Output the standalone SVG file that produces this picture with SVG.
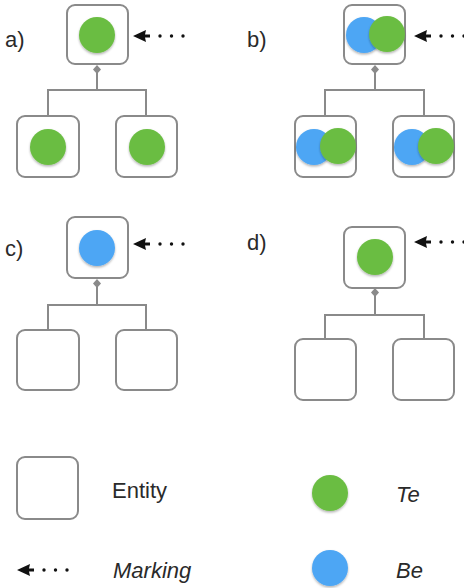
<svg xmlns="http://www.w3.org/2000/svg" width="464" height="588" viewBox="0 0 464 588">
<defs>
<style>
.box{fill:#fff;stroke:#8a8a8a;stroke-width:2}
.ln{fill:none;stroke:#8a8a8a;stroke-width:2}
.dia{fill:#8a8a8a}
.te{fill:#6bbd43}
.be{fill:#4da6f4}
.lbl{font-family:"Helvetica Neue","Liberation Sans",Arial,sans-serif;font-size:22px;fill:#2a2a2a}
.it{font-style:italic}
.dot{fill:#111}
</style>
<filter id="sh" x="-30%" y="-30%" width="160%" height="170%">
<feDropShadow dx="0" dy="1.5" stdDeviation="1.2" flood-color="#000" flood-opacity="0.3"/>
</filter>
<g id="mark">
<path d="M0,0 L13,-6 L12,-1.5 L17,-1.5 L17,1.5 L12,1.5 L13,6 Z" fill="#111"/>
<circle class="dot" cx="27" cy="0" r="1.7"/>
<circle class="dot" cx="38.5" cy="0" r="1.7"/>
<circle class="dot" cx="50" cy="0" r="1.7"/>
</g>
</defs>
<rect width="464" height="588" fill="#fff"/>

<g id="connectors">
<path class="ln" d="M97,68 V90 M48,116 V90 H146 V116"/>
<path class="dia" d="M97,65 L101,69.5 L97,74 L93,69.5 Z"/>
<path class="ln" d="M375,68 V90 M325,116 V90 H424 V116"/>
<path class="dia" d="M375,65 L379,69.5 L375,74 L371,69.5 Z"/>
<path class="ln" d="M97,282 V305 M48,330 V305 H146 V330"/>
<path class="dia" d="M97,279 L101,283.5 L97,288 L93,283.5 Z"/>
<path class="ln" d="M375,291 V315 M325,339 V315 H424 V339"/>
<path class="dia" d="M375,288 L379,292.5 L375,297 L371,292.5 Z"/>
<use href="#mark" x="133" y="36"/>
<use href="#mark" x="414" y="36"/>
<use href="#mark" x="133" y="244"/>
<use href="#mark" x="414" y="242"/>
</g>

<g id="panel-a">
<text class="lbl" x="5" y="47">a)</text>
<g id="a-top"><rect class="box" x="67" y="5" width="61" height="59" rx="8"/><circle class="te" cx="97" cy="35" r="18" filter="url(#sh)"/></g>
<g id="a-left"><rect class="box" x="17" y="116" width="62" height="61" rx="8"/><circle class="te" cx="48" cy="147" r="18" filter="url(#sh)"/></g>
<g id="a-right"><rect class="box" x="116" y="116" width="61" height="61" rx="8"/><circle class="te" cx="147" cy="147" r="18" filter="url(#sh)"/></g>
</g>

<g id="panel-b">
<text class="lbl" x="247" y="47">b)</text>
<g id="b-top"><rect class="box" x="344" y="5" width="61" height="59" rx="8"/><circle class="be" cx="364" cy="35" r="18" filter="url(#sh)"/><circle class="te" cx="387" cy="34" r="18" filter="url(#sh)"/></g>
<g id="b-left"><rect class="box" x="295" y="116" width="61" height="61" rx="8"/><circle class="be" cx="314" cy="147" r="18" filter="url(#sh)"/><circle class="te" cx="338" cy="146" r="18" filter="url(#sh)"/></g>
<g id="b-right"><rect class="box" x="393" y="116" width="61" height="61" rx="8"/><circle class="be" cx="412" cy="147" r="18" filter="url(#sh)"/><circle class="te" cx="436" cy="146" r="18" filter="url(#sh)"/></g>
</g>

<g id="panel-c">
<text class="lbl" x="5" y="256">c)</text>
<g id="c-top"><rect class="box" x="67" y="217" width="61" height="61" rx="8"/><circle class="be" cx="97" cy="248" r="18" filter="url(#sh)"/></g>
<g id="c-left"><rect class="box" x="17" y="330" width="62" height="60" rx="8"/></g>
<g id="c-right"><rect class="box" x="116" y="330" width="61" height="60" rx="8"/></g>
</g>

<g id="panel-d">
<text class="lbl" x="247" y="250">d)</text>
<g id="d-top"><rect class="box" x="344" y="227" width="61" height="61" rx="8"/><circle class="te" cx="375" cy="257" r="18" filter="url(#sh)"/></g>
<g id="d-left"><rect class="box" x="295" y="339" width="61" height="61" rx="8"/></g>
<g id="d-right"><rect class="box" x="393" y="339" width="61" height="61" rx="8"/></g>
</g>

<g id="legend">
<g id="legend-entity"><rect class="box" x="17" y="457" width="61" height="62" rx="8"/><text class="lbl" x="112" y="498">Entity</text></g>
<g id="legend-te"><circle class="te" cx="330" cy="493" r="18" filter="url(#sh)"/><text class="lbl it" x="396" y="502">Te</text></g>
<g id="legend-marking"><use href="#mark" x="17" y="570"/><text class="lbl it" x="113" y="578">Marking</text></g>
<g id="legend-be"><circle class="be" cx="330" cy="568" r="18" filter="url(#sh)"/><text class="lbl it" x="396" y="578">Be</text></g>
</g>
</svg>
